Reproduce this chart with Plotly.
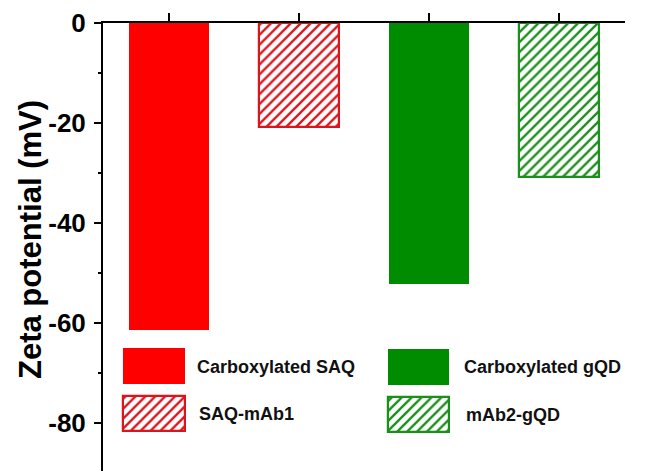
import plotly.graph_objects as go

# Zeta potential of each sample (mV)
samples = ["Carboxylated SAQ", "SAQ-mAb1", "Carboxylated gQD", "mAb2-gQD"]
zeta_mv = [-61.4, -20.8, -52.2, -30.7]
y_tick_values = [0, -20, -40, -60, -80]
y_tick_text = ["0", "-20", "-40", "-60", "-80"]
y_title = "Zeta potential (mV)"

# Styling per sample
fill_colors = ["#ff0000", "#dc141c", "#008c00", "#1a8f1a"]
hatched = [False, True, False, True]

FONT = "Liberation Sans, Arial, sans-serif"

W, H = 649, 471
LEFT, RIGHT, TOP, BOTTOM = 103, 24, 23, 0
PLOT_W, PLOT_H = W - LEFT - RIGHT, H - TOP - BOTTOM

fig = go.Figure()


def bar_marker(color, hatch):
    if hatch:
        return dict(
            color="white",
            line=dict(color=color, width=2.2),
            pattern=dict(shape="/", fgcolor=color, bgcolor="white",
                         fgopacity=1, size=7, solidity=0.33),
        )
    return dict(color=color, line=dict(color=color, width=0))


# Main bars, hanging down from the zero line
for i, (name, val) in enumerate(zip(samples, zeta_mv)):
    fig.add_trace(go.Bar(
        x=[i], y=[val], width=0.62, name=name,
        marker=bar_marker(fill_colors[i], hatched[i]),
        showlegend=False, hoverinfo="x+y",
    ))

# Large legend swatches drawn on an overlay axis measured in pixels
swatches = [
    (123, 185, 348, 384, 195, 367),
    (123, 185, 396, 431, 197, 414),
    (388, 449, 349, 385, 462, 367),
    (388, 449, 397, 432, 464, 415),
]
for i, (x0, x1, y0, y1, tx, ty) in enumerate(swatches):
    fig.add_trace(go.Bar(
        x=[(x0 + x1) / 2], y=[y1 - y0], base=[y0], width=[x1 - x0],
        marker=bar_marker(fill_colors[i], hatched[i]),
        xaxis="x2", yaxis="y2", showlegend=False, hoverinfo="skip",
    ))
    fig.add_annotation(
        x=tx, y=ty, xref="x2", yref="y2", text=samples[i],
        showarrow=False, xanchor="left", yanchor="middle",
        font=dict(family=FONT, size=18, color="#111111", weight="bold"),
    )

# Vertical axis title
fig.add_annotation(
    x=(30 - LEFT) / PLOT_W, y=1 - (240 - TOP) / PLOT_H,
    xref="paper", yref="paper", text=y_title, textangle=-90,
    showarrow=False, xanchor="center", yanchor="middle",
    font=dict(family=FONT, size=31, color="black", weight="bold"),
)

fig.update_layout(
    width=W, height=H,
    margin=dict(l=LEFT, r=RIGHT, t=TOP, b=BOTTOM, pad=0),
    paper_bgcolor="white", plot_bgcolor="white",
    bargap=0, barmode="overlay",
    xaxis=dict(
        side="top", range=[-0.508, 3.508],
        tickmode="array", tickvals=[0, 1, 2, 3], showticklabels=False,
        ticks="outside", ticklen=8, tickwidth=2, tickcolor="black",
        showline=True, linewidth=2, linecolor="black",
        showgrid=False, zeroline=False, fixedrange=True,
    ),
    yaxis=dict(
        range=[-89.6, 0],
        tickmode="array", tickvals=y_tick_values, ticktext=y_tick_text,
        ticks="outside", ticklen=7, tickwidth=2, tickcolor="black",
        minor=dict(ticks="outside", ticklen=3, tickwidth=2,
                   tickcolor="black", tickvals=[-10, -30, -50, -70, -90]),
        showline=True, linewidth=2, linecolor="black",
        showgrid=False, zeroline=False, fixedrange=True,
        tickfont=dict(family=FONT, size=26, color="black", weight="bold"),
        ticklabelstandoff=3,
    ),
    xaxis2=dict(overlaying="x", range=[LEFT, W - RIGHT], visible=False,
                fixedrange=True),
    yaxis2=dict(overlaying="y", range=[H - BOTTOM, TOP], visible=False,
                fixedrange=True),
)

fig.write_html("out.html")
